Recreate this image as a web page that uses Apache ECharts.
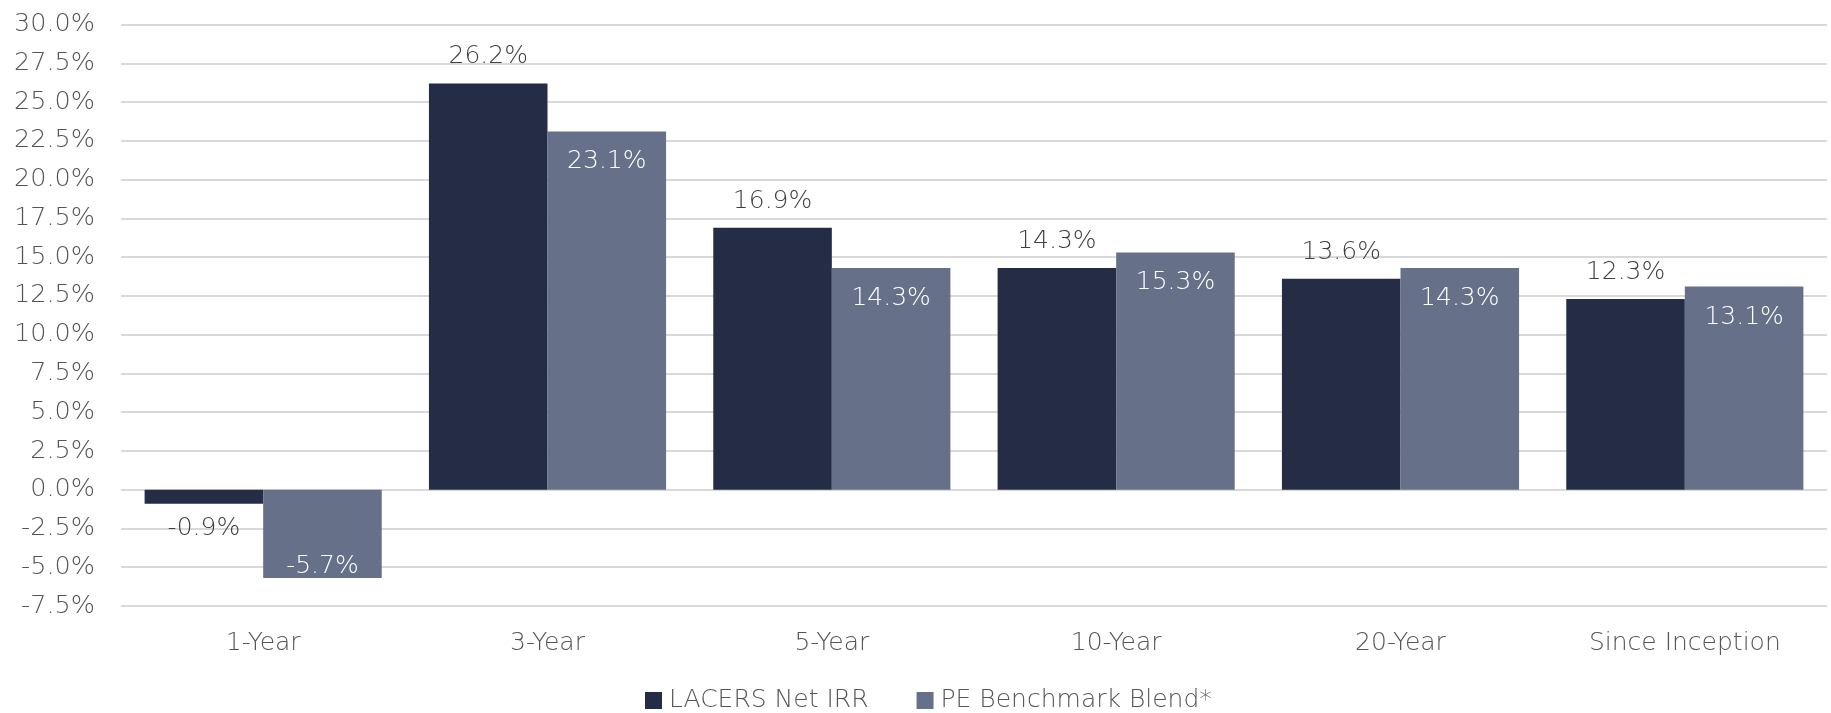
<!DOCTYPE html>
<html>
<head>
<meta charset="utf-8">
<script src="https://cdn.jsdelivr.net/npm/echarts@6/dist/echarts.min.js"></script>
<style>
html,body{margin:0;padding:0;background:#fff;}
#chart{width:1831px;height:713px;}
</style>
</head>
<body>
<div id="chart"></div>
<script>
const categories = ['1-Year', '3-Year', '5-Year', '10-Year', '20-Year', 'Since Inception'];
const lacersNetIRR = [-0.9, 26.2, 16.9, 14.3, 13.6, 12.3];
const peBenchmark = [-5.7, 23.1, 14.3, 15.3, 14.3, 13.1];
const seriesNames = ['LACERS Net IRR', 'PE Benchmark Blend*'];

const FONT = '"DejaVu Sans"';
const WEIGHT = 300;
const TXT = '#555555';
const C1 = '#242d45';
const C2 = '#667189';

const chart = echarts.init(document.getElementById('chart'), null, {renderer: 'canvas'});

const s1Data = lacersNetIRR.map(v => ({
  value: v,
  label: v < 0 ? {position: 'bottom', distance: 12} : {position: 'top'}
}));
const s2Data = peBenchmark.map(v => ({
  value: v,
  label: v < 0 ? {position: 'insideBottom', distance: 0, offset: [0, 1]} : {position: 'insideTop', distance: 18}
}));

chart.setOption({
  animation: false,
  backgroundColor: '#ffffff',
  grid: {left: 121, right: 4, top: 24.5, bottom: 107, containLabel: false},
  legend: {
    data: seriesNames,
    left: 640,
    top: 683,
    itemWidth: 17,
    itemHeight: 17,
    itemGap: 48,
    icon: 'rect',
    textStyle: {fontFamily: FONT, fontWeight: WEIGHT, fontSize: 25, color: TXT, padding: [0, 0, 0, 2]}
  },
  xAxis: {
    type: 'category',
    data: categories,
    axisLine: {show: false},
    axisTick: {show: false},
    axisLabel: {fontFamily: FONT, fontWeight: WEIGHT, fontSize: 25, color: TXT, margin: 25}
  },
  yAxis: {
    type: 'value',
    min: -7.5,
    max: 30,
    interval: 2.5,
    axisLine: {show: false},
    axisTick: {show: false},
    splitLine: {lineStyle: {color: '#d9d9d9', width: 2}},
    axisLabel: {
      fontFamily: FONT, fontWeight: WEIGHT, fontSize: 25.5, color: TXT, margin: 26,
      formatter: v => v.toFixed(1) + '%'
    }
  },
  series: [
    {
      name: seriesNames[0],
      type: 'bar',
      data: s1Data,
      itemStyle: {color: C1},
      barGap: '0%',
      barCategoryGap: '16.6%',
      label: {
        show: true, distance: 14,
        fontFamily: FONT, fontWeight: WEIGHT, fontSize: 25, color: '#404040',
        formatter: p => p.value.toFixed(1) + '%'
      }
    },
    {
      name: seriesNames[1],
      type: 'bar',
      data: s2Data,
      itemStyle: {color: C2},
      barGap: '0%',
      barCategoryGap: '16.6%',
      label: {
        show: true,
        fontFamily: FONT, fontWeight: WEIGHT, fontSize: 25, color: '#ffffff',
        formatter: p => p.value.toFixed(1) + '%'
      }
    }
  ]
});
</script>
</body>
</html>
